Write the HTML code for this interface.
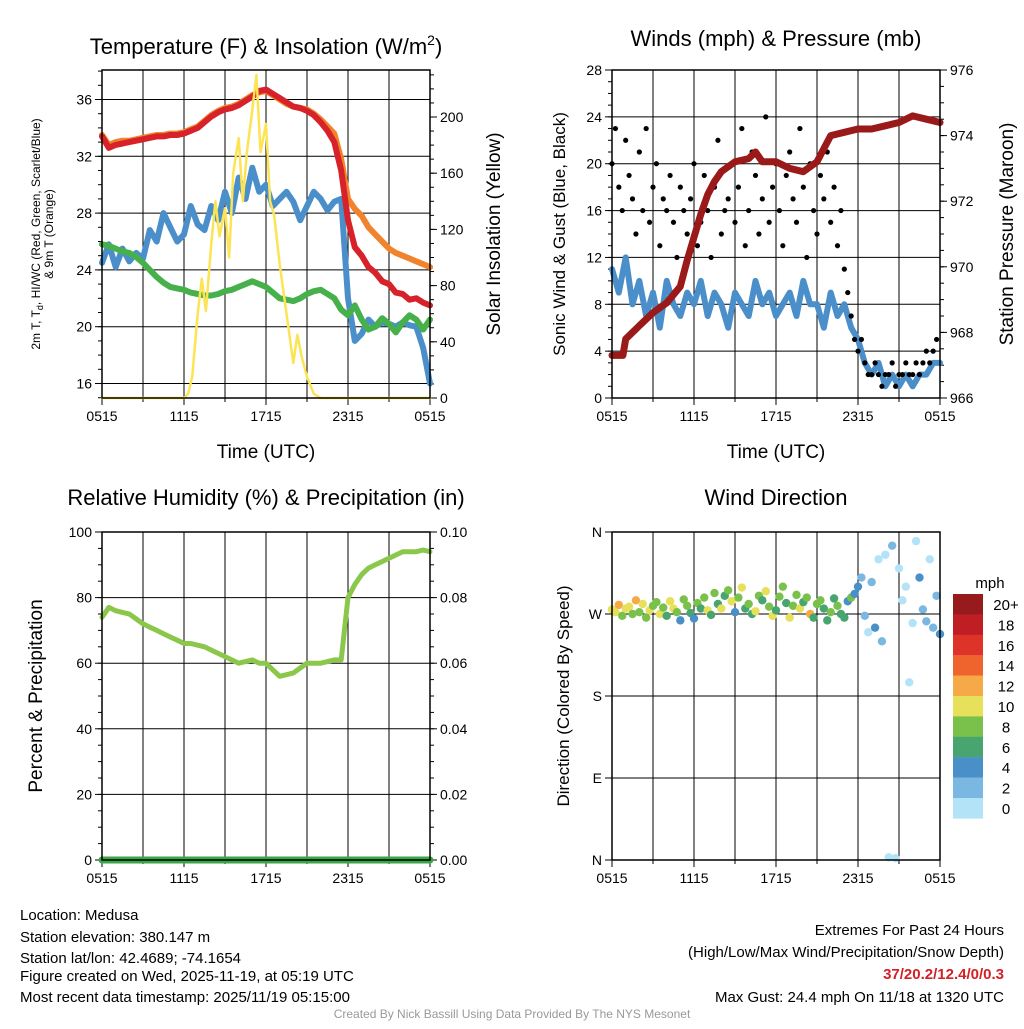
<!DOCTYPE html>
<html><head><meta charset="utf-8"><style>
body{margin:0;background:#fff;width:1024px;height:1024px;overflow:hidden}
svg{font-family:"Liberation Sans",sans-serif}
</style></head><body>
<svg id="c" width="1024" height="1024" viewBox="0 0 1024 1024">
<g id="g"></g>
<g font-size="22" text-anchor="middle" fill="#000">
<text x="266" y="54">Temperature (F) &amp; Insolation (W/m<tspan font-size="14" dy="-9">2</tspan><tspan dy="9">)</tspan></text>
<text x="776" y="46">Winds (mph) &amp; Pressure (mb)</text>
<text x="266" y="505">Relative Humidity (%) &amp; Precipitation (in)</text>
<text x="776" y="505">Wind Direction</text>
</g>
<g font-size="19" text-anchor="middle">
<text x="266" y="458">Time (UTC)</text>
<text x="776" y="458">Time (UTC)</text>
<text transform="translate(500,234) rotate(-90)">Solar Insolation (Yellow)</text>
<text transform="translate(565,234) rotate(-90)" font-size="17">Sonic Wind &amp; Gust (Blue, Black)</text>
<text transform="translate(1013,234) rotate(-90)">Station Pressure (Maroon)</text>
<text transform="translate(42,696) rotate(-90)">Percent &amp; Precipitation</text>
<text transform="translate(569,696) rotate(-90)" font-size="17">Direction (Colored By Speed)</text>
</g>
<g font-size="12" text-anchor="middle">
<text transform="translate(40,234) rotate(-90)">2m T, T<tspan font-size="9" dy="3">d</tspan><tspan dy="-3">, HI/WC (Red, Green, Scarlet/Blue)</tspan></text>
<text transform="translate(53,234) rotate(-90)">&amp; 9m T (Orange)</text>
</g>
<g font-size="15" fill="#000">
<text x="20" y="920">Location: Medusa</text>
<text x="20" y="942">Station elevation: 380.147 m</text>
<text x="20" y="963">Station lat/lon: 42.4689; -74.1654</text>
<text x="20" y="981">Figure created on Wed, 2025-11-19, at 05:19 UTC</text>
<text x="20" y="1002">Most recent data timestamp: 2025/11/19 05:15:00</text>
<g text-anchor="end">
<text x="1004" y="935">Extremes For Past 24 Hours</text>
<text x="1004" y="957">(High/Low/Max Wind/Precipitation/Snow Depth)</text>
<text x="1004" y="979" fill="#d42027" font-weight="bold">37/20.2/12.4/0/0.3</text>
<text x="1004" y="1002">Max Gust: 24.4 mph On 11/18 at 1320 UTC</text>
</g>
<text x="512" y="1018" text-anchor="middle" font-size="12" fill="#999">Created By Nick Bassill Using Data Provided By The NYS Mesonet</text>
</g>
</svg>
<script>
// ---- data ----
const hourTicks=["0515","1115","1715","2315","0515"];
const tHalf=[0,0.5,1,1.5,2,2.5,3,3.5,4,4.5,5,5.5,6,6.5,7,7.5,8,8.5,9,9.5,10,10.5,11,11.5,12,12.5,13,13.5,14,14.5,15,15.5,16,16.5,17,17.5,18,18.5,19,19.5,20,20.5,21,21.5,22,22.5,23,23.5,24];
const airT=[33.4,32.6,32.8,32.9,33.0,33.1,33.2,33.3,33.4,33.4,33.5,33.5,33.6,33.8,34.0,34.4,34.8,35.1,35.3,35.4,35.6,35.9,36.2,36.6,36.7,36.4,36.1,35.8,35.5,35.4,35.2,34.9,34.4,33.8,33.0,31.0,27.5,25.6,25.0,24.2,23.8,23.2,23.0,22.4,22.3,21.9,22.0,21.7,21.5];
const t9m=[33.5,32.8,33.0,33.1,33.1,33.2,33.3,33.4,33.5,33.5,33.6,33.6,33.7,33.9,34.1,34.5,34.9,35.2,35.4,35.5,35.7,36.0,36.3,36.5,36.6,36.3,36.0,35.7,35.5,35.4,35.3,35.0,34.6,34.1,33.6,31.8,29.0,28.3,27.8,27.0,26.5,26.0,25.5,25.2,25.0,24.8,24.6,24.4,24.2];
const windChill=[24.5,25.8,24.2,25.5,24.6,25.2,24.8,26.8,26.0,28.0,27.0,26.0,26.5,28.5,27.2,26.8,28.5,27.5,29.5,28.0,30.5,29.0,31.2,29.5,30.0,28.5,29.0,29.5,28.8,27.5,28.5,29.5,29.0,28.2,28.8,29.0,22.0,19.0,19.5,20.5,20.0,20.3,20.2,20.0,20.3,20.1,20.0,18.5,16.0];
const dewPt=[25.8,25.7,25.5,25.3,25.2,24.9,24.5,24.0,23.5,23.1,22.8,22.7,22.6,22.4,22.3,22.2,22.2,22.3,22.5,22.6,22.8,23.0,23.2,23.0,22.8,22.4,22.0,21.9,21.8,22.0,22.3,22.5,22.6,22.3,22.0,21.2,20.8,21.5,20.5,19.8,20.0,20.6,20.2,19.6,20.3,20.8,20.5,19.8,20.5];
const solarT=[0,6,6.3,6.6,7,7.3,7.6,8,8.3,8.6,9,9.3,9.6,10,10.3,10.6,11,11.3,11.6,12,12.3,12.6,13,13.5,14,14.3,14.6,15,15.5,16,24];
const solar=[0,0,3,15,60,85,62,110,140,115,135,100,160,185,140,175,205,230,175,195,140,130,95,60,25,45,30,15,3,0,0];
const windSpd=[11,9,12,8,10,7,9,6,10,8,7,9,8,10,7,9,8,6,9,8,7,10,8,9,7,8,9,7,10,8,8,6,9,7,8,6,5,3,2,3,1,2,1,2,1,2,2,3,3];
const gusts=[20,23,18,16,22,19,17,14,21,16,23,15,18,20,13,17,16,19,15,12,18,16,14,17,20,13,15,19,16,12,18,22,14,16,17,20,15,18,23,13,16,21,19,14,17,24,15,18,20,16,13,19,21,17,15,23,18,12,20,16,14,19,17,21,15,18,13,16,11,9,7,5,4,5,3,2,2,3,2,1,2,2,3,1,2,2,3,2,2,3,2,3,4,3,4,5];
const presT=[0,0.8,1,2,3,4,5,5.5,6,6.5,7,7.5,8,9,10,10.5,11,12,13,14,15,15.5,16,17,18,19,20,21,22,23,24];
const pressure=[967.3,967.3,967.8,968.2,968.6,968.9,969.4,970.2,970.9,971.6,972.2,972.6,972.9,973.2,973.3,973.5,973.2,973.2,973.0,972.9,973.2,973.6,974.0,974.1,974.2,974.2,974.3,974.4,974.6,974.5,974.4];
const rh=[74,77,76,75.5,75,73.5,72,71,70,69,68,67,66,66,65.5,65,64,63,62,61,60,60.5,61,60,60,58,56,56.5,57,58.5,60,60,60,60.5,61,61,80,84,87,89,90,91,92,93,94,94,94,94.5,94];
const precip=[0,0,0,0,0];
const dirs=[275,272,280,268,276,278,270,285,272,281,266,274,279,283,270,277,268,284,276,272,263,286,279,271,265,282,276,288,274,269,293,281,276,290,296,284,272,288,299,276,281,270,273,290,285,295,278,268,274,289,300,282,266,279,291,276,283,288,270,266,281,285,276,263,272,287,279,270,266,284,288,292,300,310,268,250,305,255,330,240,335,3,345,2,320,285,300,195,260,350,310,275,262,330,255,290,248];
const dirSpd=[11,10,12,9,11,10,8,12,9,10,8,11,9,8,10,9,7,11,10,8,5,9,8,7,4,9,6,8,10,7,9,7,11,6,8,10,4,9,11,7,8,6,10,9,7,11,8,10,6,9,8,7,10,9,8,11,6,8,12,7,9,8,6,7,8,6,9,7,6,5,8,5,4,3,2,1,2,4,1,3,0,0,2,1,1,0,0,1,1,0,4,2,3,1,2,3,4];
const cbLabels=["20+","18","16","14","12","10","8","6","4","2","0"];
const cbColors=["#971a1d","#c01e25","#de3328","#ef632c","#f5a947","#e6e05a","#7ac14b","#48a56f","#4a90c8","#7ab8e2","#b3e3f7"];

// ---- drawing ----
const NS="http://www.w3.org/2000/svg";
const G=document.getElementById('g');
function mk(tag,at,parent){const e=document.createElementNS(NS,tag);for(const k in at)e.setAttribute(k,at[k]);(parent||G).appendChild(e);return e;}
function lin(d0,d1,r0,r1){return v=>r0+(v-d0)*(r1-r0)/(d1-d0);}
function panel(x0,y0,name){
  const p={x0,y0,x1:x0+328,y1:y0+328,X:lin(0,24,x0,x0+328)};
  // vertical grid every 3h
  for(let h=3;h<24;h+=3){const l=mk('line',{x1:p.X(h),x2:p.X(h),y1:y0,y2:y0+328,stroke:'#000','stroke-width':1});
    }
  for(let h=0;h<=24;h+=3){const l=mk('line',{x1:p.X(h),x2:p.X(h),y1:y0+328,y2:y0+328+(h%6?4:7),stroke:'#000'});
    }
  hourTicks.forEach((s,i)=>{const t=mk('text',{x:p.X(i*6),y:y0+351,'font-size':14,'text-anchor':'middle'});t.textContent=s;
    });
  return p;
}
function frame(p,name){const r=mk('rect',{x:p.x0,y:p.y0,width:328,height:328,fill:'none',stroke:'#000','stroke-width':1.5});
  }
function yAxis(p,vals,Y,labels,side,name,grid,minorStep,lo,hi){
  vals.forEach((v,i)=>{const y=Y(v);
    if(grid){const g=mk('line',{x1:p.x0,x2:p.x1,y1:y,y2:y,stroke:'#000'});}
    const xa=side=='l'?p.x0:p.x1,dx=side=='l'?-7:7;
    const t=mk('line',{x1:xa,x2:xa+dx,y1:y,y2:y,stroke:'#000'});
    const tx=mk('text',{x:side=='l'?xa-10:xa+10,y:y+5,'font-size':14,'text-anchor':side=='l'?'end':'start'});tx.textContent=labels[i];
    });
  if(minorStep){for(let v=lo;v<=hi+1e-9;v+=minorStep){const y=Y(v);if(y<p.y0-0.5||y>p.y1+0.5)continue;const xa=side=='l'?p.x0:p.x1;
    const t=mk('line',{x1:xa,x2:xa+(side=='l'?-4:4),y1:y,y2:y,stroke:'#000'});}}
}
function line(p,ts,vs,Y,color,w,name){const pts=ts.map((t,i)=>p.X(t).toFixed(1)+','+Y(vs[i]).toFixed(1)).join(' ');
  const l=mk('polyline',{points:pts,fill:'none',stroke:color,'stroke-width':w,'stroke-linejoin':'round','stroke-linecap':'round'});
  return l;}

// Panel 1
const p1=panel(102,70,'temp');
const T1=lin(16,36,383.5,99.5), S1=lin(0,200,398,117);
yAxis(p1,[16,20,24,28,32,36],T1,["16","20","24","28","32","36"],'l','temp',true,1,15,38);
yAxis(p1,[0,40,80,120,160,200],S1,["0","40","80","120","160","200"],'r','solar',false,10,0,230);
line(p1,tHalf,windChill,T1,'#4a8fca',6,'wind-chill-line');
line(p1,tHalf,dewPt,T1,'#46b04a',6,'dewpoint-line');
line(p1,tHalf,t9m,T1,'#f2832d',6,'temp-9m-line');
line(p1,tHalf,airT,T1,'#d62228',6,'temp-2m-line');
line(p1,solarT,solar,S1,'#fde454',2.5,'solar-line');
frame(p1,'temp');

// Panel 2
const p2=panel(612,70,'wind');
const W2=lin(0,28,398,70), P2=lin(966,976,398,70);
yAxis(p2,[0,4,8,12,16,20,24,28],W2,["0","4","8","12","16","20","24","28"],'l','wind',true,1,0,28);
yAxis(p2,[966,968,970,972,974,976],P2,["966","968","970","972","974","976"],'r','pressure',false,0.5,966,976);
line(p2,tHalf,windSpd,W2,'#4a8fca',6,'wind-speed-line');
gusts.forEach((g,i)=>{const c=mk('circle',{cx:p2.X(i*0.25),cy:W2(g),r:2.6,fill:'#000'});
  });
line(p2,presT,pressure,P2,'#9a1a1a',7,'pressure-line');
frame(p2,'wind');

// Panel 3
const p3=panel(102,532,'rh');
const R3=lin(0,100,860,532), Q3=lin(0,0.1,860,532);
yAxis(p3,[0,20,40,60,80,100],R3,["0","20","40","60","80","100"],'l','rh',true,5,0,100);
yAxis(p3,[0,0.02,0.04,0.06,0.08,0.1],Q3,["0.00","0.02","0.04","0.06","0.08","0.10"],'r','precip',false,0.005,0,0.1);
line(p3,tHalf,rh,R3,'#8bc74a',5,'rh-line');
line(p3,[0,6,12,18,24],precip,Q3,'#3aa64a',7,'precip-line');
frame(p3,'rh');

// Panel 4
const p4=panel(612,532,'wdir');
const D4=lin(0,360,860,532);
yAxis(p4,[360,270,180,90,0],D4,["N","W","S","E","N"],'l','wdir',true,0,0,0);
dirs.forEach((d,i)=>{const s=dirSpd[i];const bin=Math.min(10,Math.floor(s/2));
  const c=mk('circle',{cx:p4.X(i*0.25),cy:D4(d),r:4.2,fill:cbColors[10-bin]});
  });
frame(p4,'wdir');
// colorbar
const cbT=mk('text',{x:990,y:588,'font-size':15,'text-anchor':'middle'});cbT.textContent='mph';

cbColors.forEach((col,i)=>{const y=594+i*20.4;
  const r=mk('rect',{x:953,y:y,width:30,height:20.6,fill:col});
  const t=mk('text',{x:1006,y:y+16,'font-size':15,'text-anchor':'middle'});t.textContent=cbLabels[i];
  });
</script>
</body></html>
